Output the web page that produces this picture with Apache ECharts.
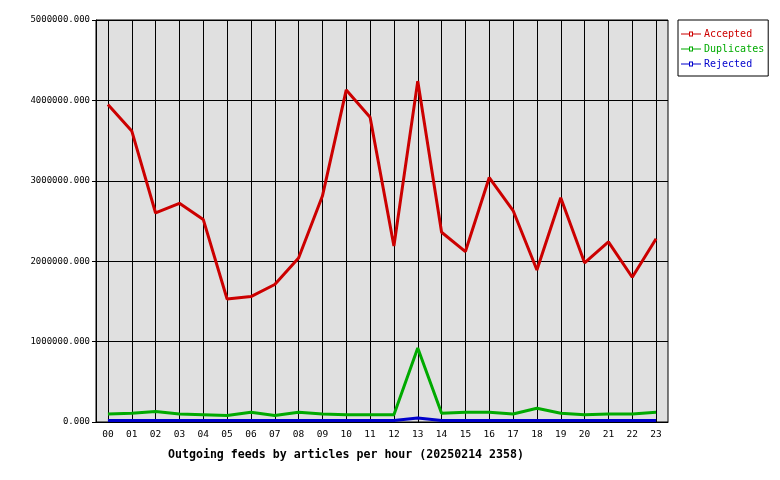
<!DOCTYPE html>
<html><head><meta charset="utf-8">
<script src="https://cdn.jsdelivr.net/npm/echarts@6/dist/echarts.min.js"></script>
<style>html,body{margin:0;padding:0;background:#fff}#c{width:780px;height:480px}</style>
</head><body><div id="c"></div>
<script>
const hours = ['00','01','02','03','04','05','06','07','08','09','10','11','12','13','14','15','16','17','18','19','20','21','22','23'];
const accepted = [3950000,3620000,2600000,2720000,2520000,1530000,1560000,1710000,2040000,2810000,4130000,3790000,2190000,4240000,2360000,2120000,3040000,2630000,1890000,2790000,1980000,2240000,1800000,2280000];
const duplicates = [100000,110000,130000,100000,90000,80000,120000,80000,120000,100000,90000,90000,90000,920000,110000,120000,120000,100000,170000,110000,90000,100000,100000,120000];
const rejected = [20000,20000,20000,20000,20000,20000,20000,20000,20000,20000,20000,20000,20000,50000,20000,20000,20000,20000,20000,20000,20000,20000,20000,20000];
const yTicks = [0,1000000,2000000,3000000,4000000,5000000];
const title = 'Outgoing feeds by articles per hour (20250214 2358)';

const font = 'DejaVu Sans Mono';
const legendIcon = 'path://M0,3H8V1H12V3H20V4H12V6H8V4H0Z M9,2V5H11V2Z';
const chart = echarts.init(document.getElementById('c'), null, {renderer:'canvas'});
function mk(name, data, color){
  return {name, type:'line', data, symbol:'rect', symbolSize:4, showSymbol:false,
    lineStyle:{color, width:3}, itemStyle:{color}, animation:false, emphasis:{disabled:true}};
}
chart.setOption({
  animation:false,
  title:{text:title, left:163, top:444, textStyle:{fontFamily:font, fontSize:11.6, fontWeight:'bold', color:'#000'}},
  legend:{left:678, top:20, orient:'vertical', backgroundColor:'#fff', borderColor:'#000', borderWidth:1, borderRadius:0,
    padding:[9,4,7,3], itemGap:5, itemWidth:20, itemHeight:7, icon:legendIcon,
    textStyle:{fontFamily:font, fontSize:10, padding:[0,0,0,-2]},
    data:[{name:'Accepted', textStyle:{color:'#cc0000'}},{name:'Duplicates', textStyle:{color:'#00aa00'}},{name:'Rejected', textStyle:{color:'#0000cc'}}]},
  grid:{left:96, right:112, top:20, bottom:58, show:true, backgroundColor:'#e0e0e0', borderColor:'#000', borderWidth:1, containLabel:false},
  xAxis:{type:'category', data:hours, boundaryGap:true,
    axisLine:{lineStyle:{color:'#000'}}, axisTick:{show:false},
    axisLabel:{fontFamily:font, fontSize:9.5, color:'#000', margin:8, interval:0},
    splitLine:{show:true, alignWithLabel:true, interval:0, lineStyle:{color:'#000', width:1}}},
  yAxis:{type:'value', min:0, max:5000000, interval:1000000,
    axisLine:{show:true, lineStyle:{color:'#000'}}, axisTick:{show:true, length:4, lineStyle:{color:'#000'}},
    axisLabel:{fontFamily:font, fontSize:9, color:'#000', margin:6, formatter:v=>v.toFixed(3)},
    splitLine:{show:true, lineStyle:{color:'#000', width:1}}},
  series:[mk('Accepted', accepted, '#cc0000'), mk('Duplicates', duplicates, '#00aa00'), mk('Rejected', rejected, '#0000cc')]
});
</script></body></html>
